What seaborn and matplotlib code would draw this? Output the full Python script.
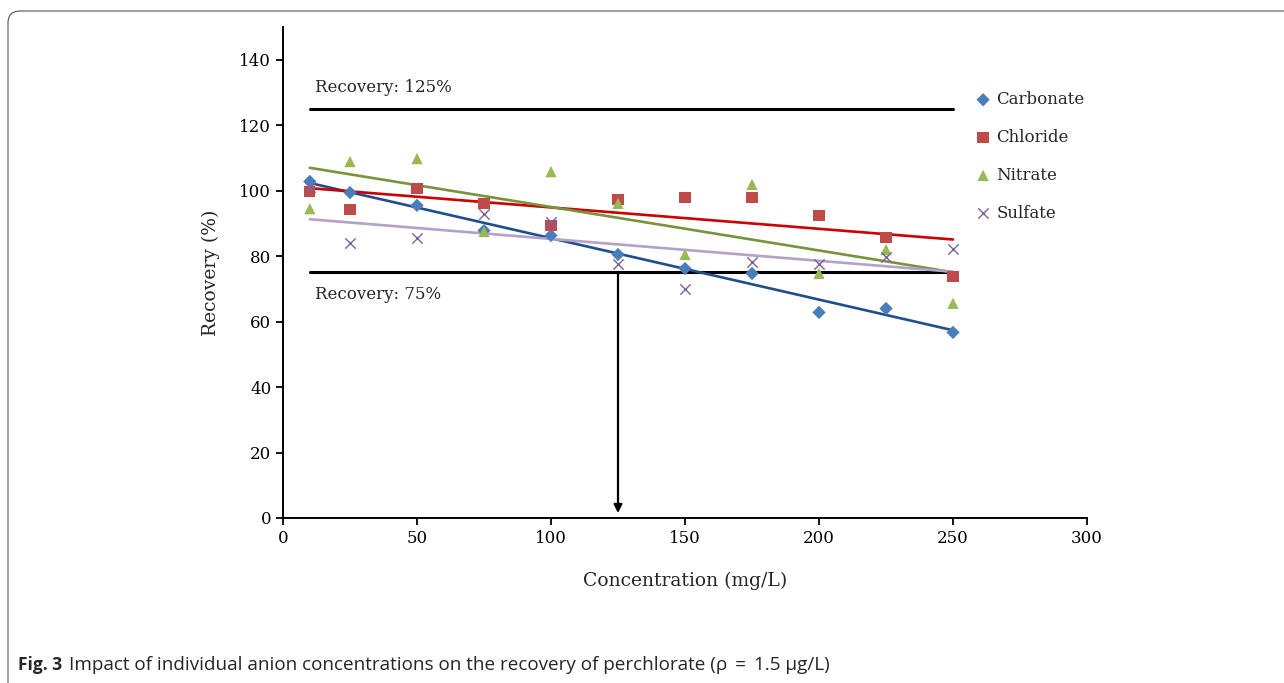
import matplotlib

matplotlib.use("Agg")
import matplotlib.pyplot as plt
import pandas as pd
import seaborn as sns
from matplotlib.patches import FancyBboxPatch

# concentrations (mg/L) and recoveries (%)
concentration = [10, 25, 50, 75, 100, 125, 150, 175, 200, 225, 250]
carbonate = [102.8, 99.4, 95.5, 87.8, 86.3, 80.5, 76.2, 74.7, 62.8, 64.0, 56.7]
chloride = [99.7, 94.2, 100.6, 96.1, 89.4, 97.3, 97.9, 97.9, 92.4, 85.7, 73.8]
nitrate = [94.5, 108.9, 109.8, 87.5, 105.8, 96.1, 80.5, 101.9, 74.7, 82.0, 65.6]
sulfate = [101.0, 83.9, 85.4, 93.0, 90.3, 77.5, 70.1, 78.1, 77.5, 79.6, 82.3]

series_names = ["Carbonate", "Chloride", "Nitrate", "Sulfate"]
series_values = [carbonate, chloride, nitrate, sulfate]
marker_colors = ["#4a7ebb", "#be4b48", "#98b954", "#7d60a0"]
line_colors = ["#1f4e8c", "#cc0000", "#77933c", "#b3a2c7"]
markers = ["D", "s", "^", "x"]
marker_sizes = [46, 66, 66, 56]

limit_levels = [125, 75]
limit_labels = ["Recovery: 125%", "Recovery: 75%"]
marked_conc = 125

df = pd.DataFrame({"Concentration": concentration})
for name, vals in zip(series_names, series_values):
    df[name] = vals
long_df = df.melt(id_vars="Concentration", var_name="Anion", value_name="Recovery")

sns.set_style("white")
plt.rcParams["font.family"] = ["DejaVu Serif"]

fig = plt.figure(figsize=(12.84, 6.83), dpi=100)
ax = fig.add_axes([0.2204, 0.2416, 0.6262, 0.7189])

# trend lines first so markers sit on top
for name, lc in zip(series_names, line_colors):
    sub = long_df[long_df["Anion"] == name]
    sns.regplot(data=sub, x="Concentration", y="Recovery", ax=ax, ci=None,
                scatter=False, truncate=True,
                line_kws={"color": lc, "lw": 1.9, "zorder": 2})

# recovery limits
x_lo, x_hi = min(concentration), max(concentration)
for lvl in limit_levels:
    ax.plot([x_lo, x_hi], [lvl, lvl], color="black", lw=2.2, zorder=1)
ax.text(x_lo + 2, limit_levels[0] + 4, limit_labels[0], fontsize=12, va="bottom")
ax.text(x_lo + 2, limit_levels[1] - 4, limit_labels[1], fontsize=12, va="top")

for name, mk, mc, ms in zip(series_names, markers, marker_colors, marker_sizes):
    sub = long_df[long_df["Anion"] == name]
    kws = dict(color=mc, edgecolor="none") if mk != "x" else dict(color=mc, linewidth=1.0)
    sns.scatterplot(data=sub, x="Concentration", y="Recovery", ax=ax, marker=mk,
                    s=ms, label=name, zorder=3, **kws)

ax.annotate("", xy=(marked_conc, 1.5), xytext=(marked_conc, limit_levels[1]),
            arrowprops=dict(arrowstyle="-|>", color="black", lw=1.6,
                            mutation_scale=12, shrinkA=0, shrinkB=0))

ax.set_xlim(0, 300)
ax.set_ylim(0, 150)
ax.set_xticks(range(0, 301, 50))
ax.set_yticks(range(0, 141, 20))
ax.set_xlabel("Concentration (mg/L)", fontsize=13.5, labelpad=18)
ax.set_ylabel("Recovery (%)", fontsize=13.5, labelpad=14)
ax.tick_params(axis="both", labelsize=12, direction="out", length=5, width=1.3,
               left=True, bottom=True, colors="black")
sns.despine(ax=ax)
for side in ["left", "bottom"]:
    ax.spines[side].set_color("black")
    ax.spines[side].set_linewidth(1.4)

ax.legend(loc="upper left", bbox_to_anchor=(0.85, 0.883), frameon=False,
          fontsize=12, handletextpad=0.2, labelspacing=1.25, handlelength=1.2,
          borderaxespad=0)

frame = FancyBboxPatch((8, -20), 1320, 683 - 11 + 20, transform=None,
                       boxstyle="round,pad=0,rounding_size=12",
                       facecolor="none", edgecolor="#555555", lw=0.8)
fig.patches.append(frame)

fig.text(18 / 1284, 1 - 665 / 683, "Fig. 3", fontsize=12.5, fontweight="bold",
         family=["Open Sans", "DejaVu Sans"], va="center")
fig.text(69 / 1284, 1 - 665 / 683,
         "Impact of individual anion concentrations on the recovery of perchlorate (\u03c1 \u2009=\u2009 1.5 \u03bcg/L)",
         fontsize=13.6, family=["Open Sans", "DejaVu Sans"], va="center")

fig.savefig("out.png", dpi=100)
